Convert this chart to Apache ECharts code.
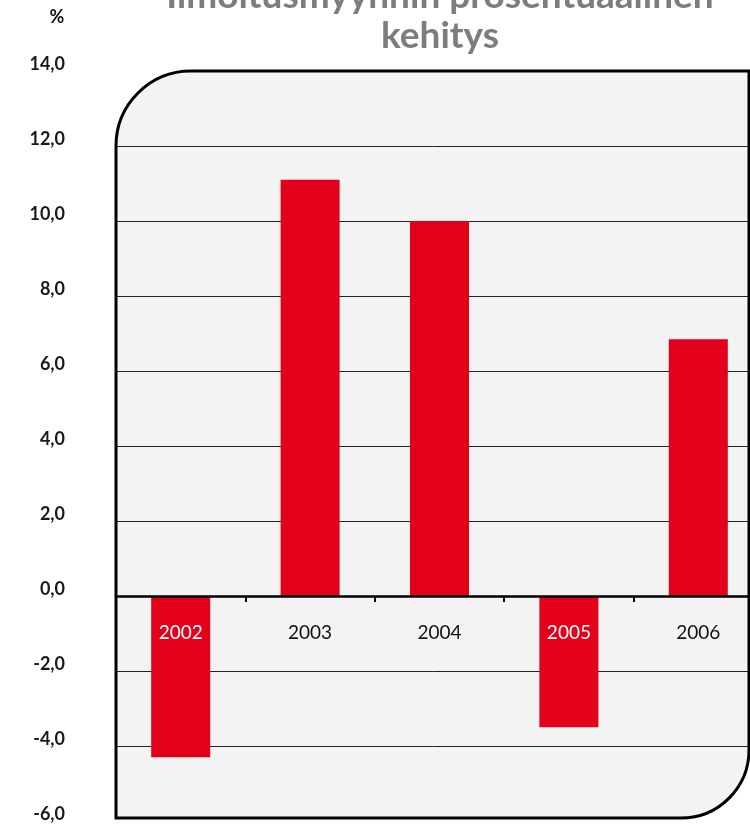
<!DOCTYPE html>
<html>
<head>
<meta charset="utf-8">
<script src="https://cdn.jsdelivr.net/npm/echarts@6/dist/echarts.min.js"></script>
<style>
html,body{margin:0;padding:0;background:#fff;}
#chart{width:750px;height:825px;}
</style>
</head>
<body>
<div id="chart"></div>
<script>
const titleLines = ['Ilmoitusmyynnin prosentuaalinen', 'kehitys'];
const unitLabel = '%';
const categories = ['2002', '2003', '2004', '2005', '2006'];
const values = [-4.3, 11.1, 10.0, -3.5, 6.85];
const yMin = -6, yMax = 14, yStep = 2;

const FONT = 'Lato, "DejaVu Sans", sans-serif';
const chart = echarts.init(document.getElementById('chart'));

const gridLeft = 116, gridTop = 71, gridBottom = 4, gridRight = -13;
const frameRight = 749;
const gridHeight = 825 - gridTop - gridBottom;
const zeroOffset = -gridHeight * (0 - yMin) / (yMax - yMin);
const rTL = 75, rBR = 68;

chart.setOption({
  animation: false,
  backgroundColor: '#ffffff',
  grid: { left: gridLeft, top: gridTop, bottom: gridBottom, right: gridRight, containLabel: false, outerBoundsMode: 'none' },
  xAxis: {
    type: 'category',
    data: categories,
    position: 'bottom',
    offset: zeroOffset,
    axisLine: { onZero: false, lineStyle: { color: '#000', width: 2.5 } },
    axisTick: { show: true, inside: false, length: 6, interval: 0, lineStyle: { color: '#000', width: 2 } },
    axisLabel: {
      margin: 27,
      fontFamily: FONT,
      fontSize: 19,
      color: function (val, idx) { return values[idx] < 0 ? '#ffffff' : '#111111'; }
    },
    splitLine: { show: false },
    z: 5
  },
  yAxis: {
    type: 'value',
    min: yMin, max: yMax, interval: yStep,
    axisLine: { show: false },
    axisTick: { show: false },
    axisLabel: {
      margin: 51,
      fontFamily: FONT,
      fontSize: 18,
      fontWeight: 'bold',
      color: '#1a1a1a',
      verticalAlign: 'bottom',
      lineHeight: 14,
      formatter: function (v) { return v.toFixed(1).replace('.', ','); }
    },
    splitLine: { show: true, lineStyle: { color: '#222', width: 1 } }
  },
  series: [{
    type: 'bar',
    data: values,
    barWidth: 59,
    itemStyle: { color: '#e2001a' },
    z: 3
  }],
  graphic: { elements: [
    {
      type: 'rect', z: -10, silent: true,
      shape: { x: gridLeft, y: gridTop, width: frameRight - gridLeft, height: gridHeight - 1, r: [rTL, 0, rBR, 0] },
      style: { fill: '#f3f3f3', stroke: null }
    },
    {
      type: 'rect', z: 50, silent: true,
      shape: { x: gridLeft - 10, y: gridTop - 3, width: rTL + 5, height: 6 },
      style: { fill: '#ffffff' }
    },
    {
      type: 'rect', z: 50, silent: true,
      shape: { x: gridLeft - 10, y: 825 - gridBottom - 2, width: 760 - gridLeft, height: 8 },
      style: { fill: '#ffffff' }
    },
    {
      type: 'rect', z: 100, silent: true,
      shape: { x: gridLeft, y: gridTop, width: frameRight - gridLeft, height: gridHeight - 3, r: [rTL, 0, rBR, 0] },
      style: { fill: null, stroke: '#000', lineWidth: 3 }
    },
    {
      type: 'text', z: 100, x: 440, y: 56,
      style: {
        text: titleLines.join('\n'),
        font: 'bold 37px ' + FONT,
        fill: '#7d7d7d',
        textAlign: 'center',
        textVerticalAlign: 'bottom',
        lineHeight: 40
      }
    },
    {
      type: 'text', z: 100, x: 57, y: 17,
      style: {
        text: unitLabel,
        font: 'bold 18px ' + FONT,
        fill: '#111',
        textAlign: 'center',
        textVerticalAlign: 'middle'
      }
    }
  ]}
});
</script>
</body>
</html>
